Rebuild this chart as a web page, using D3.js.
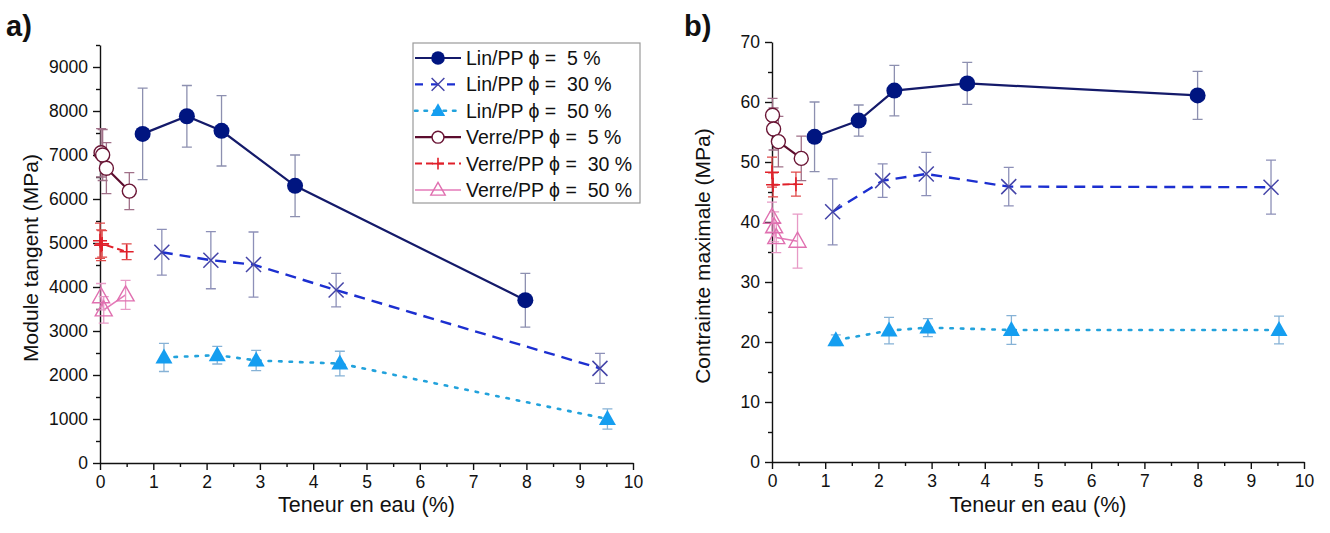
<!DOCTYPE html>
<html>
<head>
<meta charset="utf-8">
<script src="https://cdn.jsdelivr.net/npm/d3@7"></script>
<style>
  body { margin: 0; background: #fff; }
  text { font-family: "Liberation Sans", Arial, sans-serif; fill: #111; }
  .tick text { font-size: 17.5px; }
  .domain, .tick line { stroke: #111; stroke-width: 1.4; }
</style>
</head>
<body>
<svg id="chart" width="1330" height="533"></svg>
<script>
// series labels (legend)
var seriesNames = ["Lin/PP \u03d5 =  5 %", "Lin/PP \u03d5 =  30 %", "Lin/PP \u03d5 =  50 %",
                   "Verre/PP \u03d5 =  5 %", "Verre/PP \u03d5 =  30 %", "Verre/PP \u03d5 =  50 %"];

// a) Module tangent (MPa) : [teneur en eau, valeur, ecart]
var modLin5   = [[0.8, 7480, 1040], [1.63, 7880, 700], [2.28, 7550, 800], [3.66, 6300, 700], [7.98, 3700, 610]];
var modLin30  = [[1.16, 4790, 520], [2.08, 4610, 650], [2.88, 4510, 740], [4.43, 3930, 380], [9.38, 2150, 340]];
var modLin50  = [[1.2, 2400, 320], [2.2, 2450, 200], [2.93, 2330, 230], [4.5, 2260, 280], [9.52, 1000, 230]];
var modVerre5  = [[0.02, 7050, 550], [0.05, 7000, 580], [0.12, 6700, 580], [0.55, 6180, 420]];
var modVerre30 = [[0.0, 5050, 400], [0.02, 4950, 350], [0.04, 4980, 300], [0.5, 4800, 180]];
var modVerre50 = [[0.02, 3780, 300], [0.07, 3480, 300], [0.48, 3820, 330]];

// b) Contrainte maximale (MPa)
var sigLin5   = [[0.8, 54.2, 5.8], [1.63, 56.9, 2.6], [2.3, 61.9, 4.2], [3.67, 63.1, 3.5], [8.0, 61.1, 4.0]];
var sigLin30  = [[1.14, 41.7, 5.5], [2.08, 46.9, 2.8], [2.9, 48.0, 3.6], [4.45, 45.9, 3.2], [9.38, 45.8, 4.5]];
var sigLin50  = [[1.2, 20.3, 0.9], [2.2, 21.9, 2.2], [2.93, 22.4, 1.5], [4.5, 22.0, 2.4], [9.53, 22.0, 2.3]];
var sigVerre5  = [[0.01, 57.8, 2.8], [0.03, 55.5, 3.5], [0.12, 53.4, 4.2], [0.55, 50.6, 3.7]];
var sigVerre30 = [[0.0, 48.3, 2.5], [0.02, 46.2, 2.0], [0.45, 46.3, 2.0]];
var sigVerre50 = [[0.0, 40.8, 2.5], [0.04, 39.2, 2.5], [0.08, 37.4, 2.5], [0.48, 36.8, 4.5]];

var xTicks = [0, 1, 2, 3, 4, 5, 6, 7, 8, 9, 10];
var modTicks = [0, 1000, 2000, 3000, 4000, 5000, 6000, 7000, 8000, 9000];
var sigTicks = [0, 10, 20, 30, 40, 50, 60, 70];

// style for each series, same order as seriesNames
var styles = [
    { line: "#141a6a", dash: null, width: 2.2, err: "#8d90b0", marker: "dot", color: "#001580" },
    { line: "#1c2fd0", dash: "11,7", width: 2.4, err: "#8d90b8", marker: "cross", color: "#4444a8" },
    { line: "#22a2dc", dash: "2.5,8", width: 2.6, err: "#86b2d6", marker: "tri", color: "#159ef0" },
    { line: "#5c0d2e", dash: null, width: 2.2, err: "#a07088", marker: "ocircle", color: "#6a1535" },
    { line: "#e0202a", dash: "7,4", width: 2, err: "#e04a4a", marker: "plus", color: "#e0202a" },
    { line: "#e47ab8", dash: null, width: 1.6, err: "#e79ac6", marker: "otri", color: "#e070b0" }
];

var svg = d3.select("#chart");

function drawMarker(g, type, st, x, y, k) {
    k = k || 1;
    if (type === "dot") {
        g.append("circle").attr("cx", x).attr("cy", y).attr("r", 8 * k).attr("fill", st.color);
    } else if (type === "cross") {
        var s = 7.5 * k;
        g.append("path").attr("d", `M${x - s},${y - s}L${x + s},${y + s}M${x - s},${y + s}L${x + s},${y - s}`)
            .attr("stroke", st.color).attr("stroke-width", 1.5).attr("fill", "none");
    } else if (type === "tri") {
        g.append("path").attr("d", `M${x},${y - 9 * k}L${x + 8.5 * k},${y + 6 * k}L${x - 8.5 * k},${y + 6 * k}Z`)
            .attr("fill", st.color);
    } else if (type === "ocircle") {
        g.append("circle").attr("cx", x).attr("cy", y).attr("r", 7 * k).attr("fill", "#fff")
            .attr("stroke", st.color).attr("stroke-width", 1.4);
    } else if (type === "plus") {
        var p = 7 * k;
        g.append("path").attr("d", `M${x - p},${y}L${x + p},${y}M${x},${y - p}L${x},${y + p}`)
            .attr("stroke", st.color).attr("stroke-width", 1.6);
    } else if (type === "otri") {
        g.append("path").attr("d", `M${x},${y - 9 * k}L${x + 8.5 * k},${y + 6 * k}L${x - 8.5 * k},${y + 6 * k}Z`)
            .attr("fill", "none").attr("stroke", st.color).attr("stroke-width", 1.4);
    }
}

function drawPanel(opt) {
    var x = d3.scaleLinear().domain([0, 10]).range([opt.x0, opt.x1]);
    var y = d3.scaleLinear().domain([0, opt.yMax]).range([opt.y0, opt.y1]);
    var g = svg.append("g");

    // minor ticks
    g.append("g").attr("transform", `translate(0,${opt.y0})`)
        .call(d3.axisBottom(x).tickValues(d3.range(0.5, 10, 1)).tickSize(4).tickFormat(""))
        .call(a => a.select(".domain").remove());
    g.append("g").attr("transform", `translate(${opt.x0},0)`)
        .call(d3.axisLeft(y).tickValues(opt.minor).tickSize(4).tickFormat(""))
        .call(a => a.select(".domain").remove());

    // main axes
    g.append("g").attr("transform", `translate(0,${opt.y0})`)
        .call(d3.axisBottom(x).tickValues(xTicks).tickSize(7).tickSizeOuter(0).tickPadding(6).tickFormat(d3.format("d")));
    g.append("g").attr("transform", `translate(${opt.x0},0)`)
        .call(d3.axisLeft(y).tickValues(opt.ticks).tickSize(7).tickSizeOuter(0).tickPadding(5).tickFormat(d3.format("d")));

    // axis titles
    g.append("text").attr("x", (opt.x0 + opt.x1) / 2).attr("y", 512)
        .attr("text-anchor", "middle").style("font-size", "21.5px").text("Teneur en eau (%)");
    g.append("text").attr("transform", `translate(${opt.x0 - 69},${(opt.y0 + opt.y1) / 2 + 4}) rotate(-90)`)
        .attr("text-anchor", "middle").attr("dy", "0.35em").style("font-size", "21px").text(opt.yTitle);

    // panel letter
    g.append("text").attr("x", opt.letterX).attr("y", 36)
        .style("font-size", "29px").style("font-weight", "bold").text(opt.letter);

    var line = d3.line().x(d => x(d[0])).y(d => y(d[1]));

    opt.data.forEach(function (ser, i) {
        var st = styles[i];
        g.append("path").datum(ser).attr("d", line).attr("fill", "none")
            .attr("stroke", st.line).attr("stroke-width", st.width)
            .attr("stroke-dasharray", st.dash).attr("stroke-linecap", i === 2 ? "round" : "butt");
    });
    opt.data.forEach(function (ser, i) {
        var st = styles[i];
        ser.forEach(function (d) {
            var cx = x(d[0]), top = y(d[1] + d[2]), bot = y(d[1] - d[2]);
            g.append("path").attr("d", `M${cx},${top}L${cx},${bot}M${cx - 5},${top}L${cx + 5},${top}M${cx - 5},${bot}L${cx + 5},${bot}`)
                .attr("stroke", st.err).attr("stroke-width", 1.3).attr("fill", "none");
        });
    });
    opt.data.forEach(function (ser, i) {
        var st = styles[i];
        ser.forEach(function (d) { drawMarker(g, st.marker, st, x(d[0]), y(d[1])); });
    });
}

drawPanel({
    x0: 100, x1: 633, y0: 463, y1: 45, yMax: 9500,
    ticks: modTicks, minor: d3.range(500, 9600, 1000),
    yTitle: "Module tangent (MPa)", letter: "a)", letterX: 6,
    data: [modLin5, modLin30, modLin50, modVerre5, modVerre30, modVerre50]
});

drawPanel({
    x0: 772, x1: 1304, y0: 462, y1: 42, yMax: 70,
    ticks: sigTicks, minor: d3.range(5, 70, 10),
    yTitle: "Contrainte maximale (MPa)", letter: "b)", letterX: 684,
    data: [sigLin5, sigLin30, sigLin50, sigVerre5, sigVerre30, sigVerre50]
});

// legend
var leg = svg.append("g");
leg.append("rect").attr("x", 413).attr("y", 43).attr("width", 227).attr("height", 160)
    .attr("fill", "#fff").attr("stroke", "#9a9a9a").attr("stroke-width", 1.2);
seriesNames.forEach(function (name, i) {
    var st = styles[i];
    var yy = 58 + i * 26.4;
    leg.append("line").attr("x1", 415).attr("x2", 461).attr("y1", yy).attr("y2", yy)
        .attr("stroke", st.line).attr("stroke-width", st.width)
        .attr("stroke-dasharray", st.dash ? (i === 1 ? "8,8" : i === 2 ? "2.5,7" : st.dash) : null)
        .attr("stroke-linecap", i === 2 ? "round" : "butt");
    drawMarker(leg, st.marker, st, 438, yy, 0.85);
    leg.append("text").attr("x", 466).attr("y", yy).attr("dy", "0.36em")
        .style("font-size", "19.5px").style("white-space", "pre").text(name);
});
</script>
</body>
</html>
